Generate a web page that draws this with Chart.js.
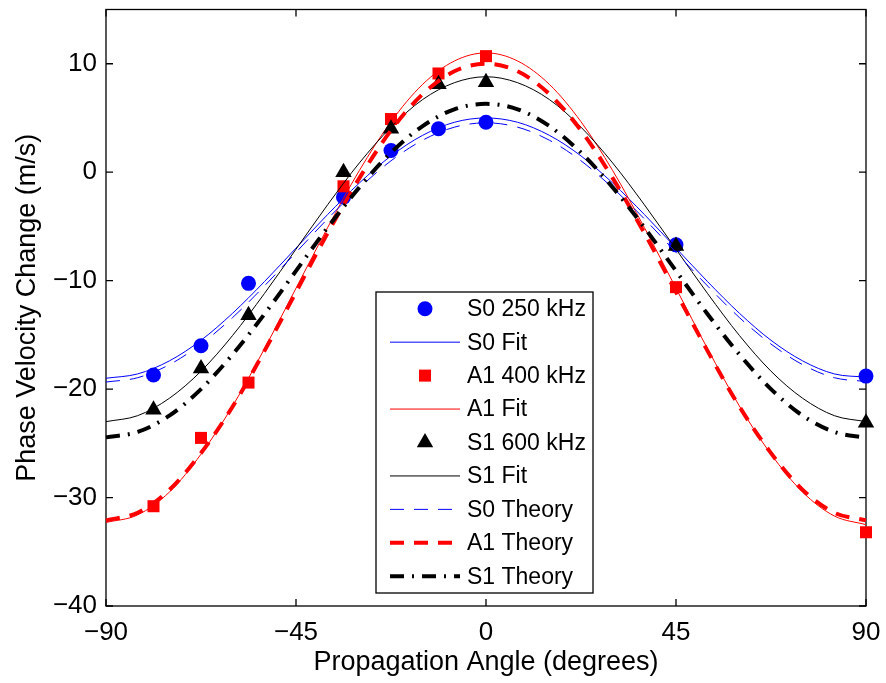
<!DOCTYPE html>
<html><head><meta charset="utf-8">
<script src="https://cdn.jsdelivr.net/npm/chart.js@4/dist/chart.umd.min.js"></script>
<style>html,body{margin:0;padding:0;background:#fff;}#wrap{width:886px;height:683px;}</style>
</head><body><div id="wrap"><canvas id="c" width="886" height="683"></canvas></div>
<script>
// ---- data ----
const xTickValues = [-90, -45, 0, 45, 90];
const yTickValues = [-40, -30, -20, -10, 0, 10];

const measAngles = [-78.75, -67.5, -56.25, -33.75, -22.5, -11.25, 0, 45, 90];
const s0Meas = [-18.7, -16.0, -10.25, -2.3, 2.0, 4.0, 4.6, -6.7, -18.8];
const a1Meas = [-30.8, -24.5, -19.4, -1.3, 4.9, 9.1, 10.7, -10.6, -33.2];
const s1Meas = [-21.9, -18.1, -13.2, 0.0, 4.0, 8.1, 8.3, -6.8, -23.1];

const curveAngles = [-90, -82.5, -75, -67.5, -60, -52.5, -45, -37.5, -30, -22.5, -15, -7.5, 0,
                     7.5, 15, 22.5, 30, 37.5, 45, 52.5, 60, 67.5, 75, 82.5, 90];
const s0Fit = [-19.0, -18.6, -17.4, -15.5, -13.0, -10.1, -7.0, -3.9, -1.0, 1.5, 3.4, 4.6, 5.0,
               4.6, 3.4, 1.5, -1.0, -3.9, -7.0, -10.1, -13.0, -15.5, -17.4, -18.6, -18.9];
const a1Fit = [-32.3, -31.6, -29.5, -26.0, -21.55, -16.3, -10.7, -5.1, 0.15, 4.65, 8.1, 10.25, 11.0,
               10.25, 8.1, 4.65, 0.15, -5.1, -10.7, -16.3, -21.55, -26.0, -29.5, -31.7, -32.5];
const s1Fit = [-23.0, -22.45, -20.85, -18.35, -15.05, -11.2, -7.1, -3.0, 0.85, 4.15, 6.7, 8.25, 8.8,
               8.25, 6.7, 4.15, 0.85, -3.0, -7.1, -11.2, -15.05, -18.35, -20.85, -22.45, -23.0];
const s0Theory = [-19.35, -18.95, -17.75, -15.85, -13.4, -10.5, -7.4, -4.3, -1.45, 1.05, 2.95, 4.15, 4.55,
                  4.15, 2.95, 1.05, -1.45, -4.3, -7.4, -10.5, -13.4, -15.85, -17.75, -18.95, -19.3];
const a1Theory = [-32.1, -31.4, -29.3, -25.9, -21.6, -16.5, -11.05, -5.6, -0.55, 3.85, 7.2, 9.3, 10.0,
                  9.3, 7.2, 3.85, -0.55, -5.6, -11.05, -16.5, -21.6, -25.9, -29.3, -31.4, -32.1];
const s1Theory = [-24.45, -23.95, -22.45, -20.0, -16.8, -13.1, -9.1, -5.1, -1.4, 1.8, 4.25, 5.8, 6.3,
                  5.8, 4.25, 1.8, -1.4, -5.1, -9.1, -13.1, -16.8, -20.0, -22.45, -23.95, -24.5];

const seriesLabels = ['S0 250 kHz', 'S0 Fit', 'A1 400 kHz', 'A1 Fit', 'S1 600 kHz', 'S1 Fit',
                      'S0 Theory', 'A1 Theory', 'S1 Theory'];
const xTitle = 'Propagation Angle (degrees)';
const yTitle = 'Phase Velocity Change (m/s)';

// ---- build datasets ----
const pts = (xs, ys) => xs.map((x, i) => ({x: x, y: ys[i]}));
const BLUE = '#0000ff', RED = '#ff0000', BLACK = '#000000';

function markerSet(label, ys, color, style, radius, order) {
  return {label, data: pts(measAngles, ys), showLine: false, pointStyle: style,
    pointRadius: radius, pointHoverRadius: radius, pointBackgroundColor: color,
    pointBorderColor: color, pointBorderWidth: 0, borderColor: color, backgroundColor: color,
    clip: false, order};
}
function lineSet(label, ys, color, width, dash, order) {
  return {label, data: pts(curveAngles, ys), showLine: true, pointRadius: 0, pointHoverRadius: 0,
    borderColor: color, backgroundColor: color, borderWidth: width, borderDash: dash,
    cubicInterpolationMode: 'monotone', fill: false, clip: false, order};
}

const datasets = [
  markerSet(seriesLabels[0], s0Meas, BLUE, 'circle', 7.5, 9),
  lineSet(seriesLabels[1], s0Fit, BLUE, 1, [], 8),
  markerSet(seriesLabels[2], a1Meas, RED, 'rect', 8.5, 7),
  lineSet(seriesLabels[3], a1Fit, RED, 1, [], 6),
  markerSet(seriesLabels[4], s1Meas, BLACK, 'triangle', 9.5, 5),
  lineSet(seriesLabels[5], s1Fit, BLACK, 1, [], 4),
  lineSet(seriesLabels[6], s0Theory, BLUE, 1, [14, 10], 3),
  lineSet(seriesLabels[7], a1Theory, RED, 4, [14, 10], 2),
  lineSet(seriesLabels[8], s1Theory, BLACK, 4, [14, 8, 2, 8], 1)
];

const minus = v => String(v).replace('-', '\u2212');

// ---- frame with inward ticks (MATLAB style box) ----
const framePlugin = {
  id: 'frame',
  beforeDatasetsDraw(chart) {
    const {ctx, chartArea: a, scales: {x, y}} = chart;
    const tl = 7;
    ctx.save();
    ctx.strokeStyle = '#000';
    ctx.lineWidth = 1.3;
    ctx.strokeRect(a.left, a.top, a.right - a.left, a.bottom - a.top);
    ctx.beginPath();
    xTickValues.forEach(v => {
      const px = x.getPixelForValue(v);
      ctx.moveTo(px, a.bottom); ctx.lineTo(px, a.bottom - tl);
      ctx.moveTo(px, a.top); ctx.lineTo(px, a.top + tl);
    });
    yTickValues.forEach(v => {
      const py = y.getPixelForValue(v);
      ctx.moveTo(a.left, py); ctx.lineTo(a.left + tl, py);
      ctx.moveTo(a.right, py); ctx.lineTo(a.right - tl, py);
    });
    ctx.stroke();
    ctx.restore();
  }
};

// ---- legend drawn inside the axes ----
function drawMarker(ctx, style, cx, cy, r, color) {
  ctx.fillStyle = color;
  ctx.beginPath();
  if (style === 'circle') {
    ctx.arc(cx, cy, r, 0, Math.PI * 2);
  } else if (style === 'rect') {
    const s = Math.SQRT1_2 * r;
    ctx.rect(cx - s, cy - s, 2 * s, 2 * s);
  } else if (style === 'triangle') {
    const h = Math.sqrt(3) / 2 * r;
    ctx.moveTo(cx, cy - r);
    ctx.lineTo(cx + h, cy + r / 2);
    ctx.lineTo(cx - h, cy + r / 2);
    ctx.closePath();
  }
  ctx.fill();
}
const legendPlugin = {
  id: 'innerLegend',
  afterDatasetsDraw(chart) {
    const {ctx} = chart;
    const box = {left: 376, top: 292, right: 593, bottom: 593};
    const rowH = (box.bottom - box.top) / seriesLabels.length;
    ctx.save();
    ctx.fillStyle = '#fff';
    ctx.fillRect(box.left, box.top, box.right - box.left, box.bottom - box.top);
    ctx.strokeStyle = '#000';
    ctx.lineWidth = 1.3;
    ctx.strokeRect(box.left, box.top, box.right - box.left, box.bottom - box.top);
    ctx.font = '23px "Liberation Sans", Arial, sans-serif';
    ctx.textBaseline = 'middle';
    ctx.textAlign = 'left';
    chart.data.datasets.forEach((ds, i) => {
      const cy = box.top + rowH * (i + 0.5);
      const x0 = box.left + 14, x1 = box.left + 84;
      if (ds.showLine === false) {
        drawMarker(ctx, ds.pointStyle, (x0 + x1) / 2, cy, ds.pointRadius, ds.pointBackgroundColor);
      } else {
        ctx.strokeStyle = ds.borderColor;
        ctx.lineWidth = ds.borderWidth;
        ctx.setLineDash(ds.borderDash || []);
        ctx.beginPath();
        ctx.moveTo(x0, cy); ctx.lineTo(x1, cy);
        ctx.stroke();
        ctx.setLineDash([]);
      }
      ctx.fillStyle = '#000';
      ctx.fillText(ds.label, box.left + 91, cy + 1);
    });
    ctx.restore();
  }
};

new Chart(document.getElementById('c'), {
  type: 'line',
  data: {datasets},
  options: {
    responsive: false,
    animation: false,
    devicePixelRatio: 1,
    layout: {padding: {top: 8, right: 20, left: 0, bottom: 0}},
    plugins: {legend: {display: false}, tooltip: {enabled: false}},
    elements: {line: {tension: 0}},
    scales: {
      x: {
        type: 'linear', min: -90, max: 90,
        afterBuildTicks: s => { s.ticks = xTickValues.map(v => ({value: v})); },
        afterFit: s => { s.height = 77; s.paddingLeft = 0; s.paddingRight = 0; },
        grid: {display: false, drawTicks: false},
        border: {display: false},
        ticks: {color: '#000', padding: 11, maxRotation: 0, autoSkip: false,
          font: {family: '"Liberation Sans", Arial, sans-serif', size: 26},
          callback: v => minus(v)},
        title: {display: true, text: xTitle, color: '#000', padding: {top: 0, bottom: 4},
          font: {family: '"Liberation Sans", Arial, sans-serif', size: 27}}
      },
      y: {
        type: 'linear', min: -40, max: 15,
        afterBuildTicks: s => { s.ticks = yTickValues.map(v => ({value: v})); },
        afterFit: s => { s.width = 106; s.paddingTop = 0; s.paddingBottom = 0; },
        grid: {display: false, drawTicks: false},
        border: {display: false},
        ticks: {color: '#000', padding: 9, autoSkip: false,
          font: {family: '"Liberation Sans", Arial, sans-serif', size: 26},
          callback: v => minus(v)},
        title: {display: true, text: yTitle, color: '#000', padding: {top: 11, bottom: 0},
          font: {family: '"Liberation Sans", Arial, sans-serif', size: 27}}
      }
    }
  },
  plugins: [framePlugin, legendPlugin]
});
</script>
</body></html>
